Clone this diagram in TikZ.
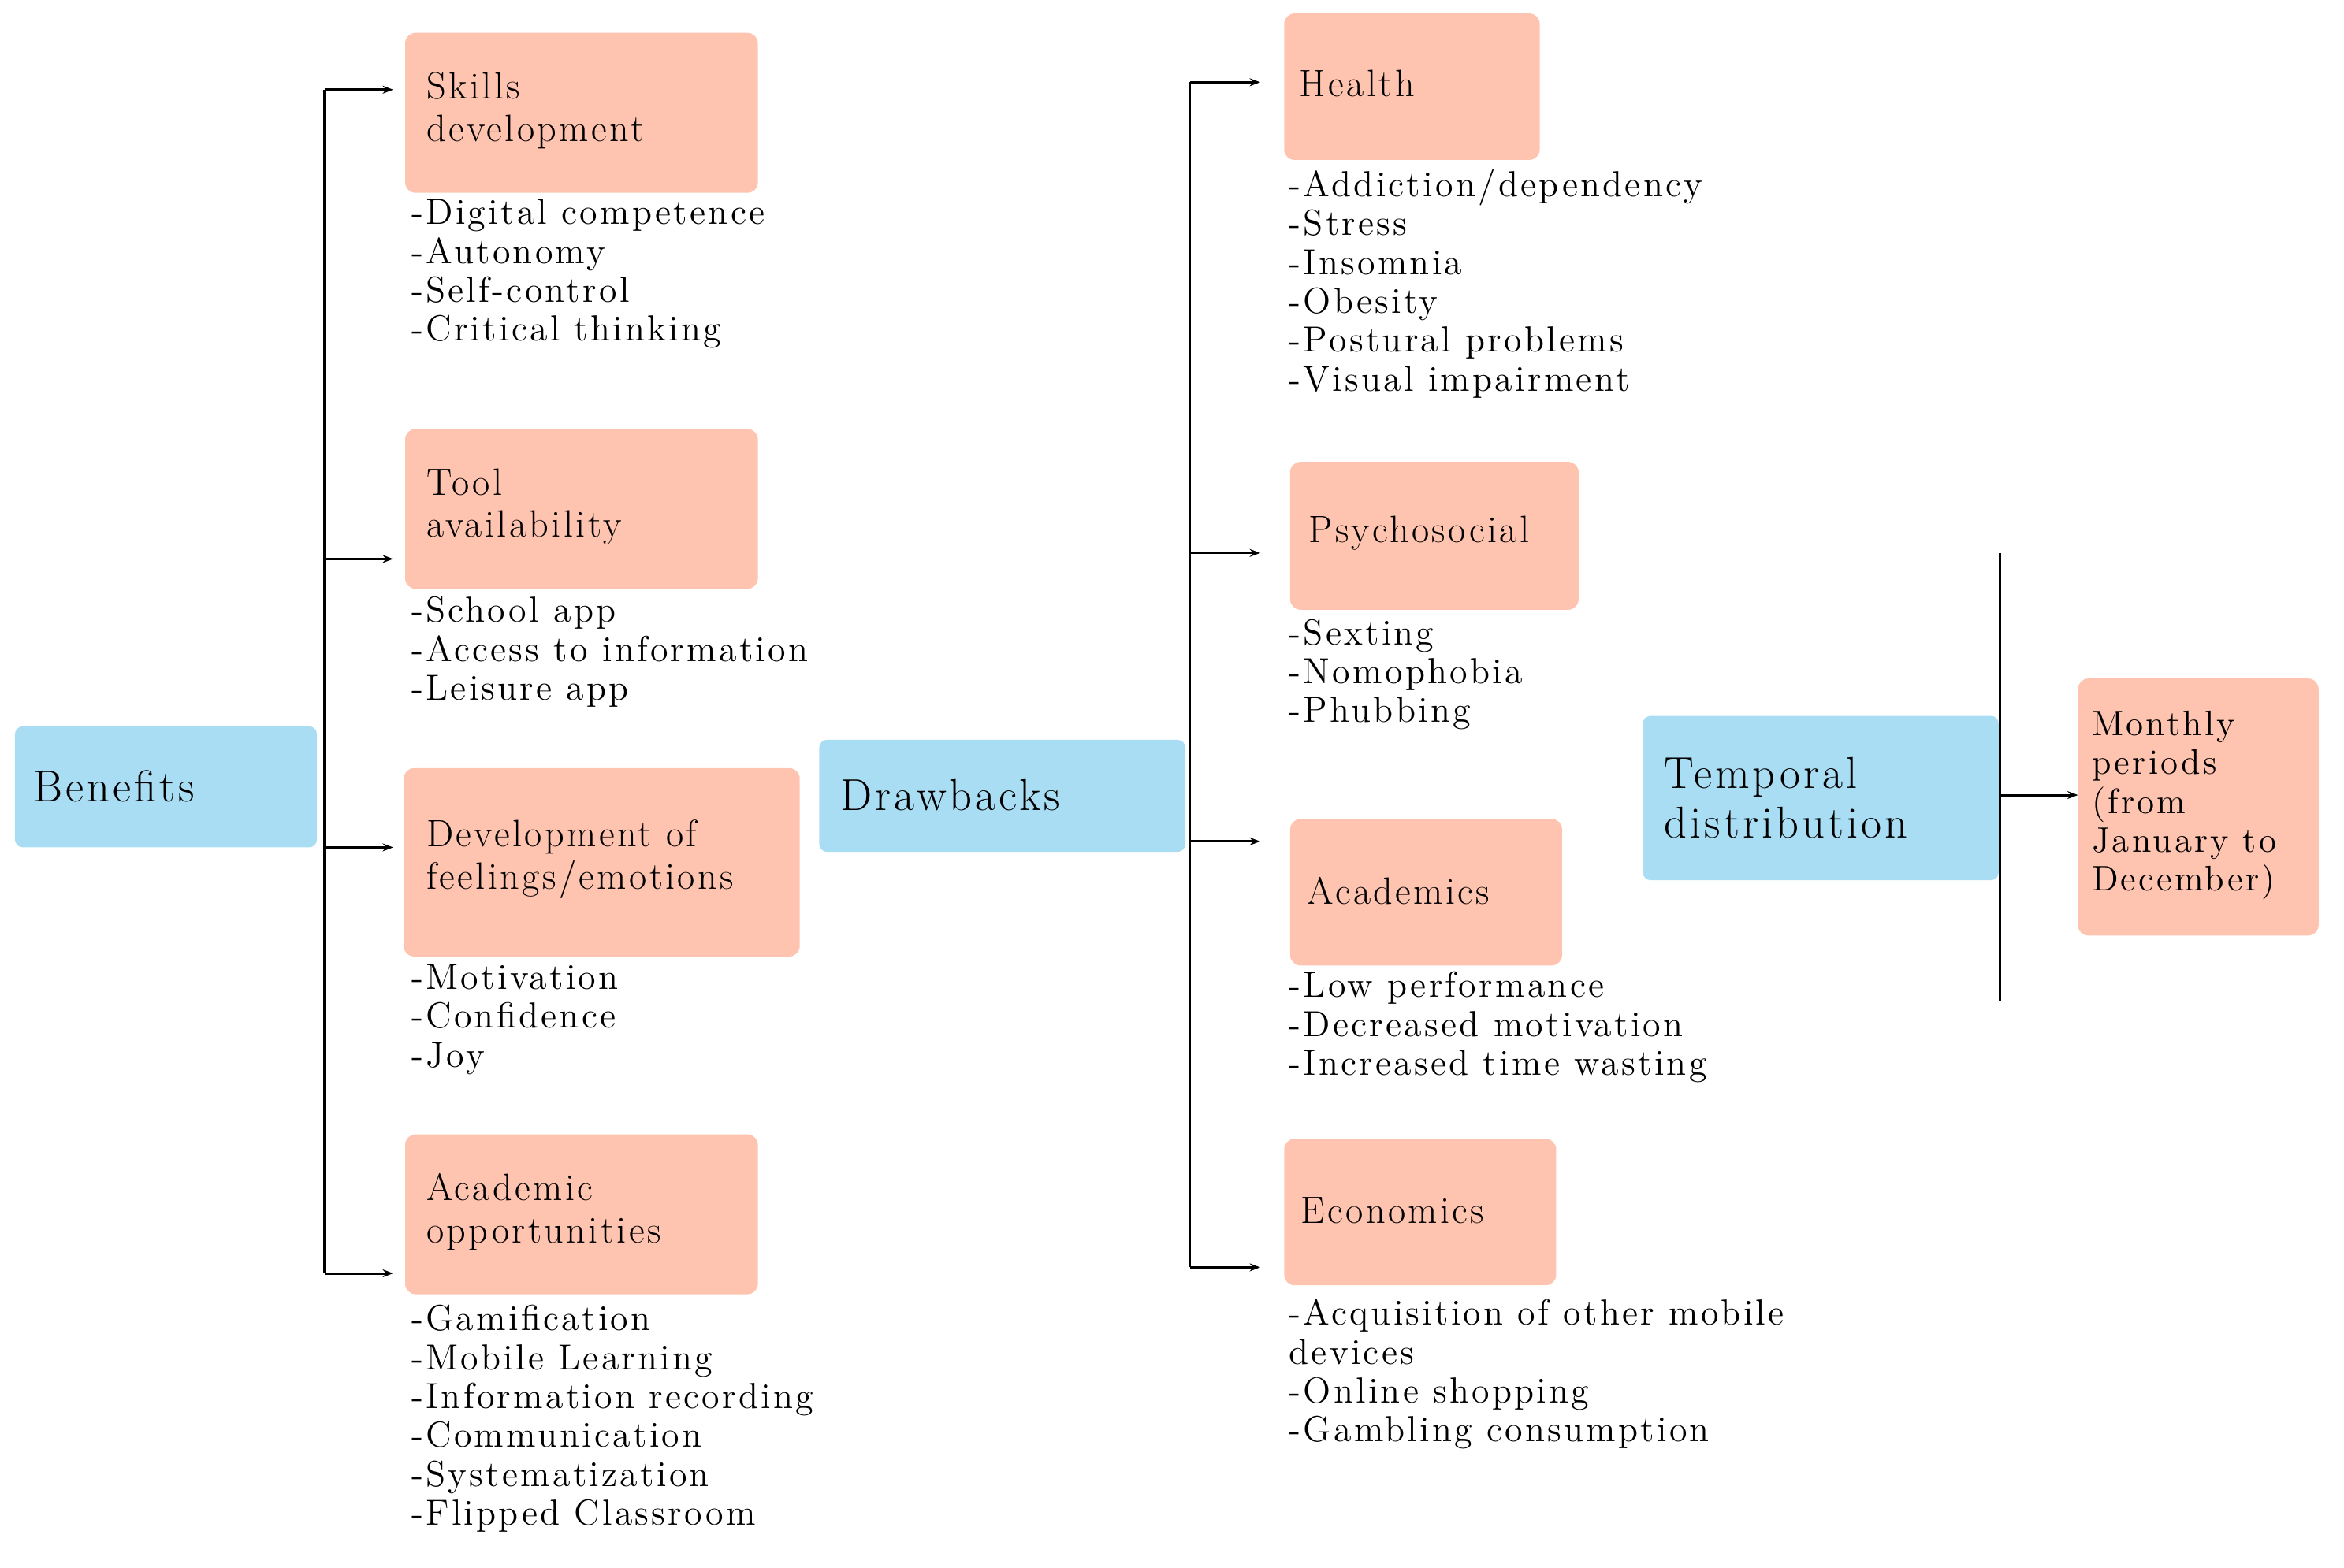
\documentclass[tikz,border=0pt]{standalone}
\usepackage{fontspec}
\setmainfont{Latin Modern Roman}[LetterSpace=7]
\usetikzlibrary{arrows.meta}
\definecolor{pk}{HTML}{FFC4B0}
\definecolor{bl}{HTML}{A9DDF3}
\begin{document}
\begin{tikzpicture}[x=0.02cm,y=-0.02cm,
 pbox/.style={fill=pk,rounded corners=4pt,inner sep=0},
 bbox/.style={fill=bl,rounded corners=3pt,inner sep=0},
 ttl/.style={anchor=west,align=left,font=\fontsize{14.5}{16}\selectfont,inner sep=0},
 big/.style={anchor=west,align=left,font=\fontsize{17}{19}\selectfont,inner sep=0},
 lst/.style={anchor=north west,align=left,font=\fontsize{13.8}{14.8}\selectfont,inner sep=0},
 ln/.style={line width=0.9pt},
 ar/.style={line width=0.9pt,-{Stealth[length=4pt,width=3pt]}}]
\useasboundingbox (0,0) rectangle (1568,1049);
% blue boxes
\path[bbox] (10,486) rectangle (212,567); \node[big] (ben) at (22,526) {Benefits};
\path[bbox] (548,495) rectangle (793,570); \node[big] (dra) at (562,532) {Drawbacks};
\path[bbox] (1099,479) rectangle (1337,589); \node[big] (tem) at (1113,534) {Temporal\\distribution};
% pink boxes
\path[pbox] (271,22) rectangle (507,129); \node[ttl] (sk) at (285,74) {Skills\\development};
\path[pbox] (271,287) rectangle (507,394); \node[ttl] (to) at (285,339) {Tool\\availability};
\path[pbox] (270,514) rectangle (535,640); \node[ttl] (fe) at (285,575) {Development of\\feelings/emotions};
\path[pbox] (271,759) rectangle (507,866); \node[ttl] (ac) at (285,811) {Academic\\opportunities};
\path[pbox] (859,9) rectangle (1030,107); \node[ttl] (he) at (869,56) {Health};
\path[pbox] (863,309) rectangle (1056,408); \node[ttl] (ps) at (875,357) {Psychosocial};
\path[pbox] (863,548) rectangle (1045,646); \node[ttl] (aa) at (874,596) {Academics};
\path[pbox] (859,762) rectangle (1041,860); \node[ttl] (ec) at (870,810) {Economics};
\path[pbox] (1390,454) rectangle (1551,626); \node[ttl,font=\fontsize{13.5}{14.8}\selectfont] (mo) at (1399,539) {Monthly\\periods\\(from\\January to\\December)};
% lists
\node[lst] (l1) at (275,133) {-Digital competence\\-Autonomy\\-Self-control\\-Critical thinking};
\node[lst] (l2) at (275,399) {-School app\\-Access to information\\-Leisure app};
\node[lst] (l3) at (275,645) {-Motivation\\-Confidence\\-Joy};
\node[lst] (l4) at (275,873) {-Gamification\\-Mobile Learning\\-Information recording\\-Communication\\-Systematization\\-Flipped Classroom};
\node[lst] (l5) at (862,113) {-Addiction/dependency\\-Stress\\-Insomnia\\-Obesity\\-Postural problems\\-Visual impairment};
\node[lst] (l6) at (862,414) {-Sexting\\-Nomophobia\\-Phubbing};
\node[lst] (l7) at (862,650) {-Low performance\\-Decreased motivation\\-Increased time wasting};
\node[lst] (l8) at (862,869) {-Acquisition of other mobile\\devices\\-Online shopping\\-Gambling consumption};
% connectors
\coordinate (b1) at (217,60); \coordinate (b4) at (217,852);
\draw[ln] (b1) -- (b4);
\foreach \y in {60,374,567,852}{\draw[ar] (217,\y) -- (263,\y);}
\coordinate (d1) at (796,55); \coordinate (d4) at (796,848);
\draw[ln] (d1) -- (d4);
\foreach \y in {55,370,563,848}{\draw[ar] (796,\y) -- (843,\y);}
\coordinate (t1) at (1338,370); \coordinate (t2) at (1338,670);
\draw[ln] (t1) -- (t2);
\draw[ar] (1338,532) -- (1390,532);
\end{tikzpicture}
\end{document}
